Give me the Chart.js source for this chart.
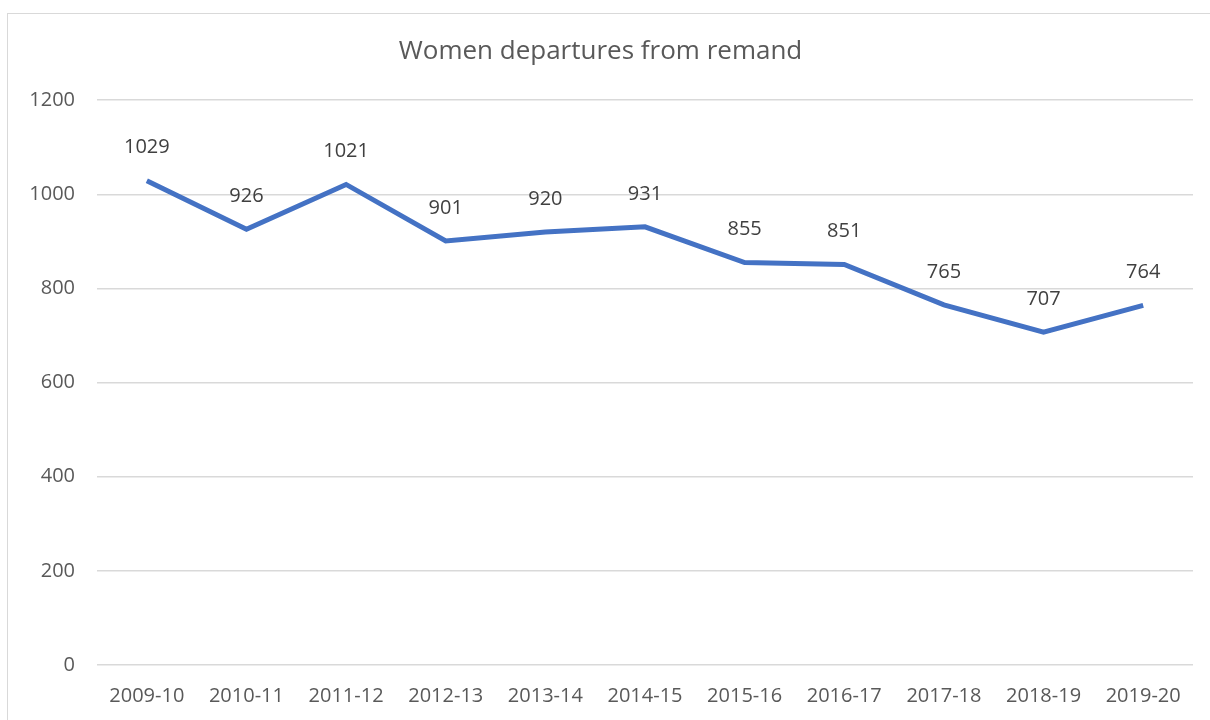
<!DOCTYPE html>
<html lang="en">
<head>
    <meta charset="UTF-8">
    <title>Women departures from remand</title>
    <script src="https://cdn.jsdelivr.net/npm/chart.js"></script>
    <style>
        body { margin: 0; background: #fff; overflow: hidden; }
        #frame {
            position: absolute; left: 7px; top: 13px;
            width: 1202px; height: 720px;
            border: 1px solid #d9d9d9;
        }
    </style>
</head>
<body>
    <div id="frame">
        <canvas id="myChart" width="1202" height="720"></canvas>
    </div>

    <script>
        const years = ["2009-10", "2010-11", "2011-12", "2012-13", "2013-14", "2014-15",
                       "2015-16", "2016-17", "2017-18", "2018-19", "2019-20"];
        const departures = [1029, 926, 1021, 901, 920, 931, 855, 851, 765, 707, 764];
        const yTicks = [0, 200, 400, 600, 800, 1000, 1200];

        const font = "'Open Sans', 'Liberation Sans', sans-serif";

        // small inline labeller, no datalabels plugin available offline
        const valueLabels = {
            id: "valueLabels",
            afterDatasetsDraw(chart) {
                const ctx = chart.ctx;
                const meta = chart.getDatasetMeta(0);
                ctx.save();
                ctx.font = "20px " + font;
                ctx.fillStyle = "#404040";
                ctx.textAlign = "center";
                ctx.textBaseline = "middle";
                meta.data.forEach((pt, i) => {
                    ctx.fillText(departures[i], pt.x, pt.y - 33);
                });
                ctx.restore();
            }
        };

        var ctx = document.getElementById("myChart").getContext("2d");
        var myChart = new Chart(ctx, {
            type: "line",
            plugins: [valueLabels],
            data: {
                labels: years,
                datasets: [{
                    label: "Women departures",
                    data: departures,
                    borderColor: "#4472c4",
                    borderWidth: 5,
                    pointRadius: 0,
                    tension: 0,
                    fill: false
                }]
            },
            options: {
                responsive: false,
                animation: false,
                layout: { padding: { left: 0, right: 17, top: 0, bottom: 7 } },
                plugins: {
                    legend: { display: false },
                    tooltip: { enabled: false },
                    title: {
                        display: true,
                        text: "Women departures from remand",
                        color: "#595959",
                        font: { family: font, size: 26, weight: "normal" },
                        padding: { top: 22, bottom: 33 }
                    }
                },
                scales: {
                    x: {
                        offset: true,
                        grid: { display: false, drawTicks: false },
                        border: { display: false },
                        ticks: {
                            color: "#595959",
                            font: { family: font, size: 20 },
                            padding: 19,
                            maxRotation: 0
                        }
                    },
                    y: {
                        min: 0,
                        max: 1200,
                        afterFit(scale) { scale.width = 89; },
                        afterBuildTicks(scale) {
                            scale.ticks = yTicks.map(v => ({ value: v }));
                        },
                        grid: { color: "#d9d9d9", lineWidth: 1.5, drawTicks: false },
                        border: { display: false },
                        ticks: {
                            color: "#595959",
                            font: { family: font, size: 20 },
                            padding: 22,
                            callback: v => String(v)
                        }
                    }
                }
            }
        });
    </script>
</body>
</html>
